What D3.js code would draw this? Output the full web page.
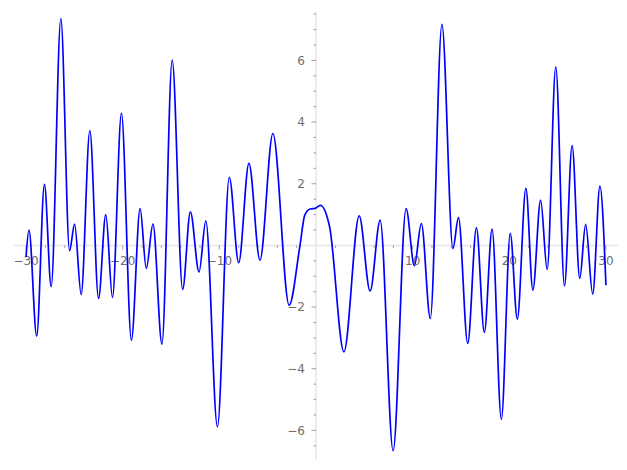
<!DOCTYPE html>
<html>
<head>
<meta charset="utf-8">
<script src="https://cdn.jsdelivr.net/npm/d3@7"></script>
<style>
  html, body { margin: 0; padding: 0; background: #fff; }
  svg { display: block; }
</style>
</head>
<body>
<div id="chart"></div>
<script>
// turning points of the curve
const xVals = [-30, -29.7, -28.9, -28.1, -27.4, -26.4, -25.5, -24.98, -24.3, -23.4,
  -22.5, -21.75, -21.06, -20.13, -19.1, -18.2, -17.56, -16.87, -15.94, -14.88,
  -13.8, -13.0, -12.1, -11.4, -10.2, -8.97, -8.0, -6.94, -5.8, -4.46,
  -2.78, -1.68, -1.16, -0.6, -0.1, 0.45, 1.41, 2.89, 4.47, 5.6,
  6.64, 7.98, 9.32, 10.18, 10.9, 11.83, 13.03, 14.17, 14.74, 15.7,
  16.6, 17.42, 18.22, 19.18, 20.1, 20.83, 21.72, 22.44, 23.24, 23.92,
  24.81, 25.71, 26.5, 27.29, 27.9, 28.63, 29.38, 30];
const yVals = [-0.37, 0.5, -2.94, 1.98, -1.34, 7.36, -0.17, 0.69, -1.59, 3.72,
  -1.72, 1.0, -1.69, 4.28, -3.07, 1.19, -0.75, 0.69, -3.2, 6.01,
  -1.43, 1.09, -0.86, 0.8, -5.88, 2.21, -0.56, 2.66, -0.48, 3.63,
  -1.94, -0.05, 0.98, 1.18, 1.2, 1.3, 0.6, -3.45, 0.96, -1.48,
  0.82, -6.66, 1.19, -0.66, 0.71, -2.37, 7.17, -0.1, 0.9, -3.18,
  0.57, -2.82, 0.53, -5.64, 0.39, -2.39, 1.85, -1.45, 1.47, -0.78,
  5.79, -1.31, 3.24, -1.07, 0.68, -1.58, 1.92, -1.29];

const xTicks = [-30, -20, -10, 10, 20, 30];
const yTicks = [-6, -4, -2, 2, 4, 6];

const width = 627, height = 470;

const points = xVals.map((x, i) => ({ x: x, y: yVals[i] }));

const x = d3.scaleLinear().domain([-31.3, 31.3]).range([13.5, 618.5]);
const y = d3.scaleLinear().domain([-6.96, 7.58]).range([460, 11.7]);

const svg = d3.select("#chart").append("svg")
  .attr("width", width)
  .attr("height", height)
  .style("font-family", "DejaVu Sans, sans-serif");

const axisColor = "#e6e6e6";
const tickColor = "#888";
const labelColor = "#6e6e6e";

// x axis at y = 0
const gx = svg.append("g").attr("transform", `translate(0,${y(0)})`);
gx.append("line")
  .attr("x1", x.range()[0]).attr("x2", x.range()[1])
  .attr("stroke", axisColor).attr("stroke-width", 1.5);
gx.selectAll("line.tick")
  .data(d3.range(-30, 31, 2).filter(v => v !== 0))
  .join("line")
  .attr("class", "tick")
  .attr("x1", d => x(d)).attr("x2", d => x(d))
  .attr("y1", 0).attr("y2", d => d % 10 === 0 ? 4 : 2.5)
  .attr("stroke", tickColor).attr("stroke-width", 0.8);
gx.selectAll("text")
  .data(xTicks)
  .join("text")
  .attr("x", d => x(d))
  .attr("y", 20)
  .attr("text-anchor", "middle")
  .attr("font-size", 12)
  .attr("fill", labelColor)
  .text(d => d < 0 ? "\u2212" + Math.abs(d) : d);

// y axis at x = 0
const gy = svg.append("g").attr("transform", `translate(${x(0)},0)`);
gy.append("line")
  .attr("y1", y.range()[0]).attr("y2", y.range()[1])
  .attr("stroke", axisColor).attr("stroke-width", 1.5);
gy.selectAll("line.tick")
  .data(d3.range(-13, 16).map(v => v / 2).filter(v => v !== 0 && v <= 7.5))
  .join("line")
  .attr("class", "tick")
  .attr("y1", d => y(d)).attr("y2", d => y(d))
  .attr("x1", d => d % 2 === 0 ? -4.5 : -2.5).attr("x2", 0)
  .attr("stroke", tickColor).attr("stroke-width", 0.8);
gy.selectAll("text")
  .data(yTicks)
  .join("text")
  .attr("x", -11)
  .attr("y", d => y(d))
  .attr("dy", "0.35em")
  .attr("text-anchor", "end")
  .attr("font-size", 12)
  .attr("fill", labelColor)
  .text(d => d < 0 ? "\u2212" + Math.abs(d) : d);

// the curve
const line = d3.line()
  .x(d => x(d.x))
  .y(d => y(d.y))
  .curve(d3.curveMonotoneX);

svg.append("path")
  .datum(points)
  .attr("fill", "none")
  .attr("stroke", "#0000ff")
  .attr("stroke-width", 1.7)
  .attr("d", line);
</script>
</body>
</html>
